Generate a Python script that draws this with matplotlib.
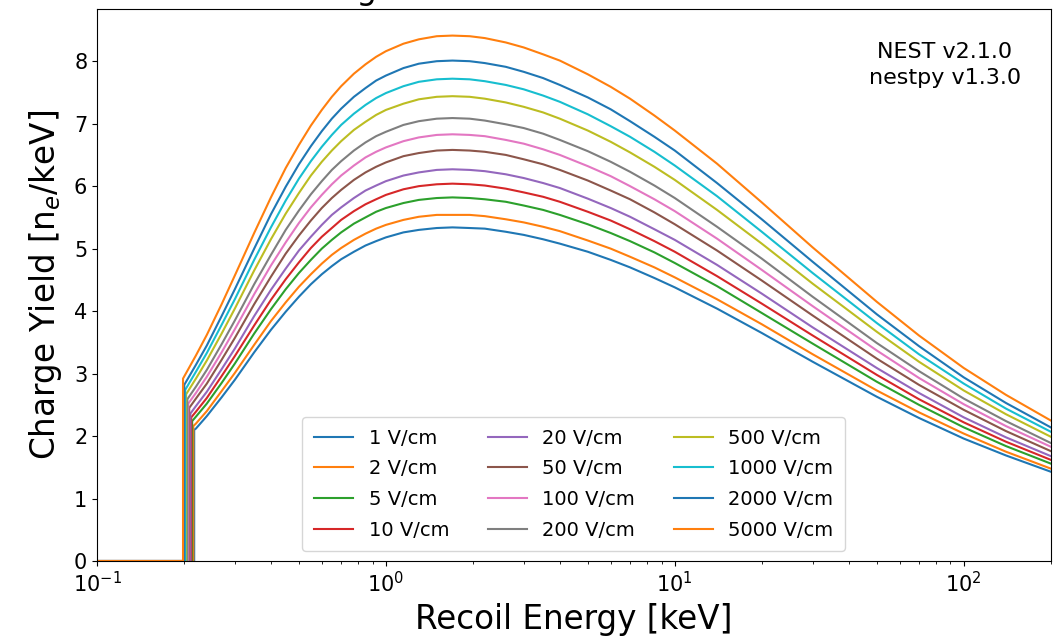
import numpy as np
import matplotlib
matplotlib.use("Agg")
import matplotlib.pyplot as plt

# drift fields [V/cm]
fields = [1, 2, 5, 10, 20, 50, 100, 200, 500, 1000, 2000, 5000]

# energy where each curve switches on, and the yield right at that step
threshold_kev = [0.217, 0.2155, 0.2135, 0.212, 0.2105, 0.2085, 0.207, 0.2055, 0.2035, 0.202, 0.2005, 0.1985]
threshold_yield = [2.10, 2.16, 2.24, 2.30, 2.36, 2.45, 2.52, 2.59, 2.67, 2.74, 2.82, 2.92]

# recoil energies above threshold [keV]
energy_kev = [0.22, 0.24, 0.27, 0.3, 0.35, 0.4, 0.45, 0.5, 0.55, 0.6, 0.65, 0.7, 0.775,
              0.85, 0.925, 1.0, 1.15, 1.3, 1.5, 1.7, 1.95, 2.2, 2.6, 3, 3.5, 4, 5, 6, 7,
              8.5, 10, 14, 20, 30, 50, 70, 100, 140, 200]

# charge yield [n_e/keV] for each field
qy_1 = [2.12, 2.32, 2.62, 2.90, 3.34, 3.70, 3.99, 4.23, 4.43, 4.59, 4.72, 4.83, 4.95,
        5.05, 5.12, 5.18, 5.26, 5.30, 5.33, 5.34, 5.33, 5.32, 5.27, 5.22, 5.15, 5.08, 4.95, 4.82, 4.70,
        4.53, 4.38, 4.04, 3.65, 3.19, 2.63, 2.29, 1.96, 1.69, 1.43]
qy_2 = [2.20, 2.40, 2.72, 3.01, 3.46, 3.84, 4.14, 4.39, 4.59, 4.76, 4.90, 5.01, 5.14,
        5.24, 5.32, 5.38, 5.46, 5.51, 5.54, 5.54, 5.54, 5.52, 5.47, 5.42, 5.35, 5.28, 5.13, 5.00, 4.87,
        4.70, 4.54, 4.19, 3.79, 3.31, 2.73, 2.38, 2.04, 1.75, 1.48]
qy_5 = [2.31, 2.52, 2.85, 3.16, 3.64, 4.03, 4.35, 4.61, 4.82, 5.00, 5.14, 5.26, 5.40,
        5.50, 5.59, 5.65, 5.73, 5.78, 5.81, 5.82, 5.81, 5.79, 5.75, 5.69, 5.62, 5.54, 5.39, 5.25, 5.12,
        4.94, 4.77, 4.40, 3.97, 3.48, 2.87, 2.50, 2.14, 1.84, 1.56]
qy_10 = [2.39, 2.61, 2.96, 3.28, 3.77, 4.18, 4.51, 4.78, 5.01, 5.19, 5.33, 5.46, 5.60,
         5.71, 5.79, 5.86, 5.95, 6.00, 6.03, 6.04, 6.03, 6.01, 5.96, 5.90, 5.83, 5.75, 5.59, 5.45, 5.31,
         5.12, 4.95, 4.56, 4.12, 3.61, 2.98, 2.59, 2.22, 1.91, 1.62]
qy_20 = [2.48, 2.71, 3.07, 3.40, 3.92, 4.34, 4.68, 4.97, 5.19, 5.38, 5.54, 5.66, 5.81,
         5.93, 6.01, 6.08, 6.17, 6.22, 6.26, 6.27, 6.26, 6.24, 6.19, 6.13, 6.05, 5.97, 5.80, 5.65, 5.51,
         5.31, 5.14, 4.74, 4.28, 3.74, 3.09, 2.69, 2.30, 1.98, 1.68]
qy_50 = [2.60, 2.84, 3.22, 3.57, 4.11, 4.55, 4.92, 5.21, 5.45, 5.65, 5.81, 5.94, 6.10,
         6.22, 6.31, 6.38, 6.48, 6.53, 6.57, 6.58, 6.57, 6.55, 6.50, 6.43, 6.35, 6.26, 6.09, 5.93, 5.79,
         5.58, 5.39, 4.97, 4.49, 3.93, 3.24, 2.82, 2.42, 2.08, 1.76]
qy_100 = [2.69, 2.95, 3.34, 3.71, 4.27, 4.73, 5.10, 5.41, 5.66, 5.86, 6.03, 6.17, 6.33,
          6.46, 6.55, 6.62, 6.72, 6.78, 6.82, 6.83, 6.82, 6.80, 6.74, 6.68, 6.59, 6.50, 6.32, 6.16, 6.00,
          5.79, 5.60, 5.16, 4.66, 4.08, 3.37, 2.93, 2.51, 2.16, 1.83]
qy_200 = [2.79, 3.06, 3.47, 3.85, 4.43, 4.90, 5.30, 5.61, 5.87, 6.08, 6.26, 6.40, 6.57,
          6.70, 6.80, 6.87, 6.98, 7.04, 7.08, 7.09, 7.08, 7.05, 6.99, 6.93, 6.84, 6.74, 6.56, 6.39, 6.23,
          6.01, 5.81, 5.35, 4.84, 4.23, 3.49, 3.04, 2.60, 2.24, 1.89]
qy_500 = [2.92, 3.21, 3.64, 4.04, 4.65, 5.15, 5.56, 5.89, 6.17, 6.39, 6.57, 6.72, 6.90,
          7.03, 7.14, 7.22, 7.32, 7.39, 7.43, 7.44, 7.43, 7.40, 7.34, 7.27, 7.18, 7.08, 6.89, 6.71, 6.54,
          6.31, 6.10, 5.62, 5.08, 4.44, 3.67, 3.19, 2.73, 2.35, 1.99]
qy_1000 = [3.03, 3.33, 3.78, 4.19, 4.82, 5.34, 5.77, 6.12, 6.40, 6.63, 6.82, 6.98, 7.16,
           7.30, 7.41, 7.49, 7.60, 7.67, 7.71, 7.72, 7.71, 7.68, 7.62, 7.55, 7.45, 7.35, 7.15, 6.96, 6.79,
           6.55, 6.33, 5.84, 5.27, 4.61, 3.81, 3.31, 2.84, 2.44, 2.07]
qy_2000 = [3.14, 3.45, 3.92, 4.35, 5.00, 5.55, 5.99, 6.35, 6.64, 6.88, 7.08, 7.24, 7.43,
           7.57, 7.69, 7.77, 7.89, 7.96, 8.00, 8.01, 8.00, 7.97, 7.91, 7.83, 7.73, 7.62, 7.42, 7.23, 7.04,
           6.79, 6.57, 6.05, 5.47, 4.79, 3.95, 3.44, 2.94, 2.53, 2.14]
qy_5000 = [3.29, 3.62, 4.11, 4.57, 5.25, 5.82, 6.29, 6.66, 6.97, 7.22, 7.43, 7.60, 7.80,
           7.95, 8.07, 8.16, 8.28, 8.35, 8.40, 8.41, 8.40, 8.37, 8.30, 8.22, 8.11, 8.01, 7.79, 7.59, 7.40,
           7.13, 6.89, 6.36, 5.74, 5.02, 4.15, 3.61, 3.09, 2.66, 2.25]

yields = [qy_1, qy_2, qy_5, qy_10, qy_20, qy_50, qy_100, qy_200, qy_500, qy_1000, qy_2000, qy_5000]

e_min, e_max = 0.1, 200

fig = plt.figure(figsize=(10.6, 6.4), dpi=100)
ax = fig.add_axes([0.0915, 0.1234, 0.8997, 0.862])

for field, thr, q0, qy in zip(fields, threshold_kev, threshold_yield, yields):
    # zero below threshold, then a step up onto the yield curve
    x = np.concatenate([[e_min, thr, thr], energy_kev])
    y = np.concatenate([[0.0, 0.0, q0], qy])
    ax.plot(x, y, lw=1.5, label=f"{field} V/cm")

ax.set_xscale("log")
ax.set_xlim(e_min, e_max)
ax.set_ylim(0, 8.83)
ax.tick_params(labelsize=15)

ax.set_xlabel("Recoil Energy [keV]", fontsize=23.5, labelpad=5)
ax.set_ylabel("Charge Yield [n$_e$/keV]", fontsize=23.5, labelpad=7)
ax.set_title("Charge Yield at Various Electric Fields", fontsize=23.5, pad=7.8, x=0.5125)

ax.text(0.889, 0.94, "NEST v2.1.0\nnestpy v1.3.0", transform=ax.transAxes,
        ha="center", va="top", fontsize=16, linespacing=1.35)

ax.legend(loc="lower center", ncol=3, fontsize=14, labelspacing=0.6, borderpad=0.6)

fig.savefig("out.png", dpi=100)
